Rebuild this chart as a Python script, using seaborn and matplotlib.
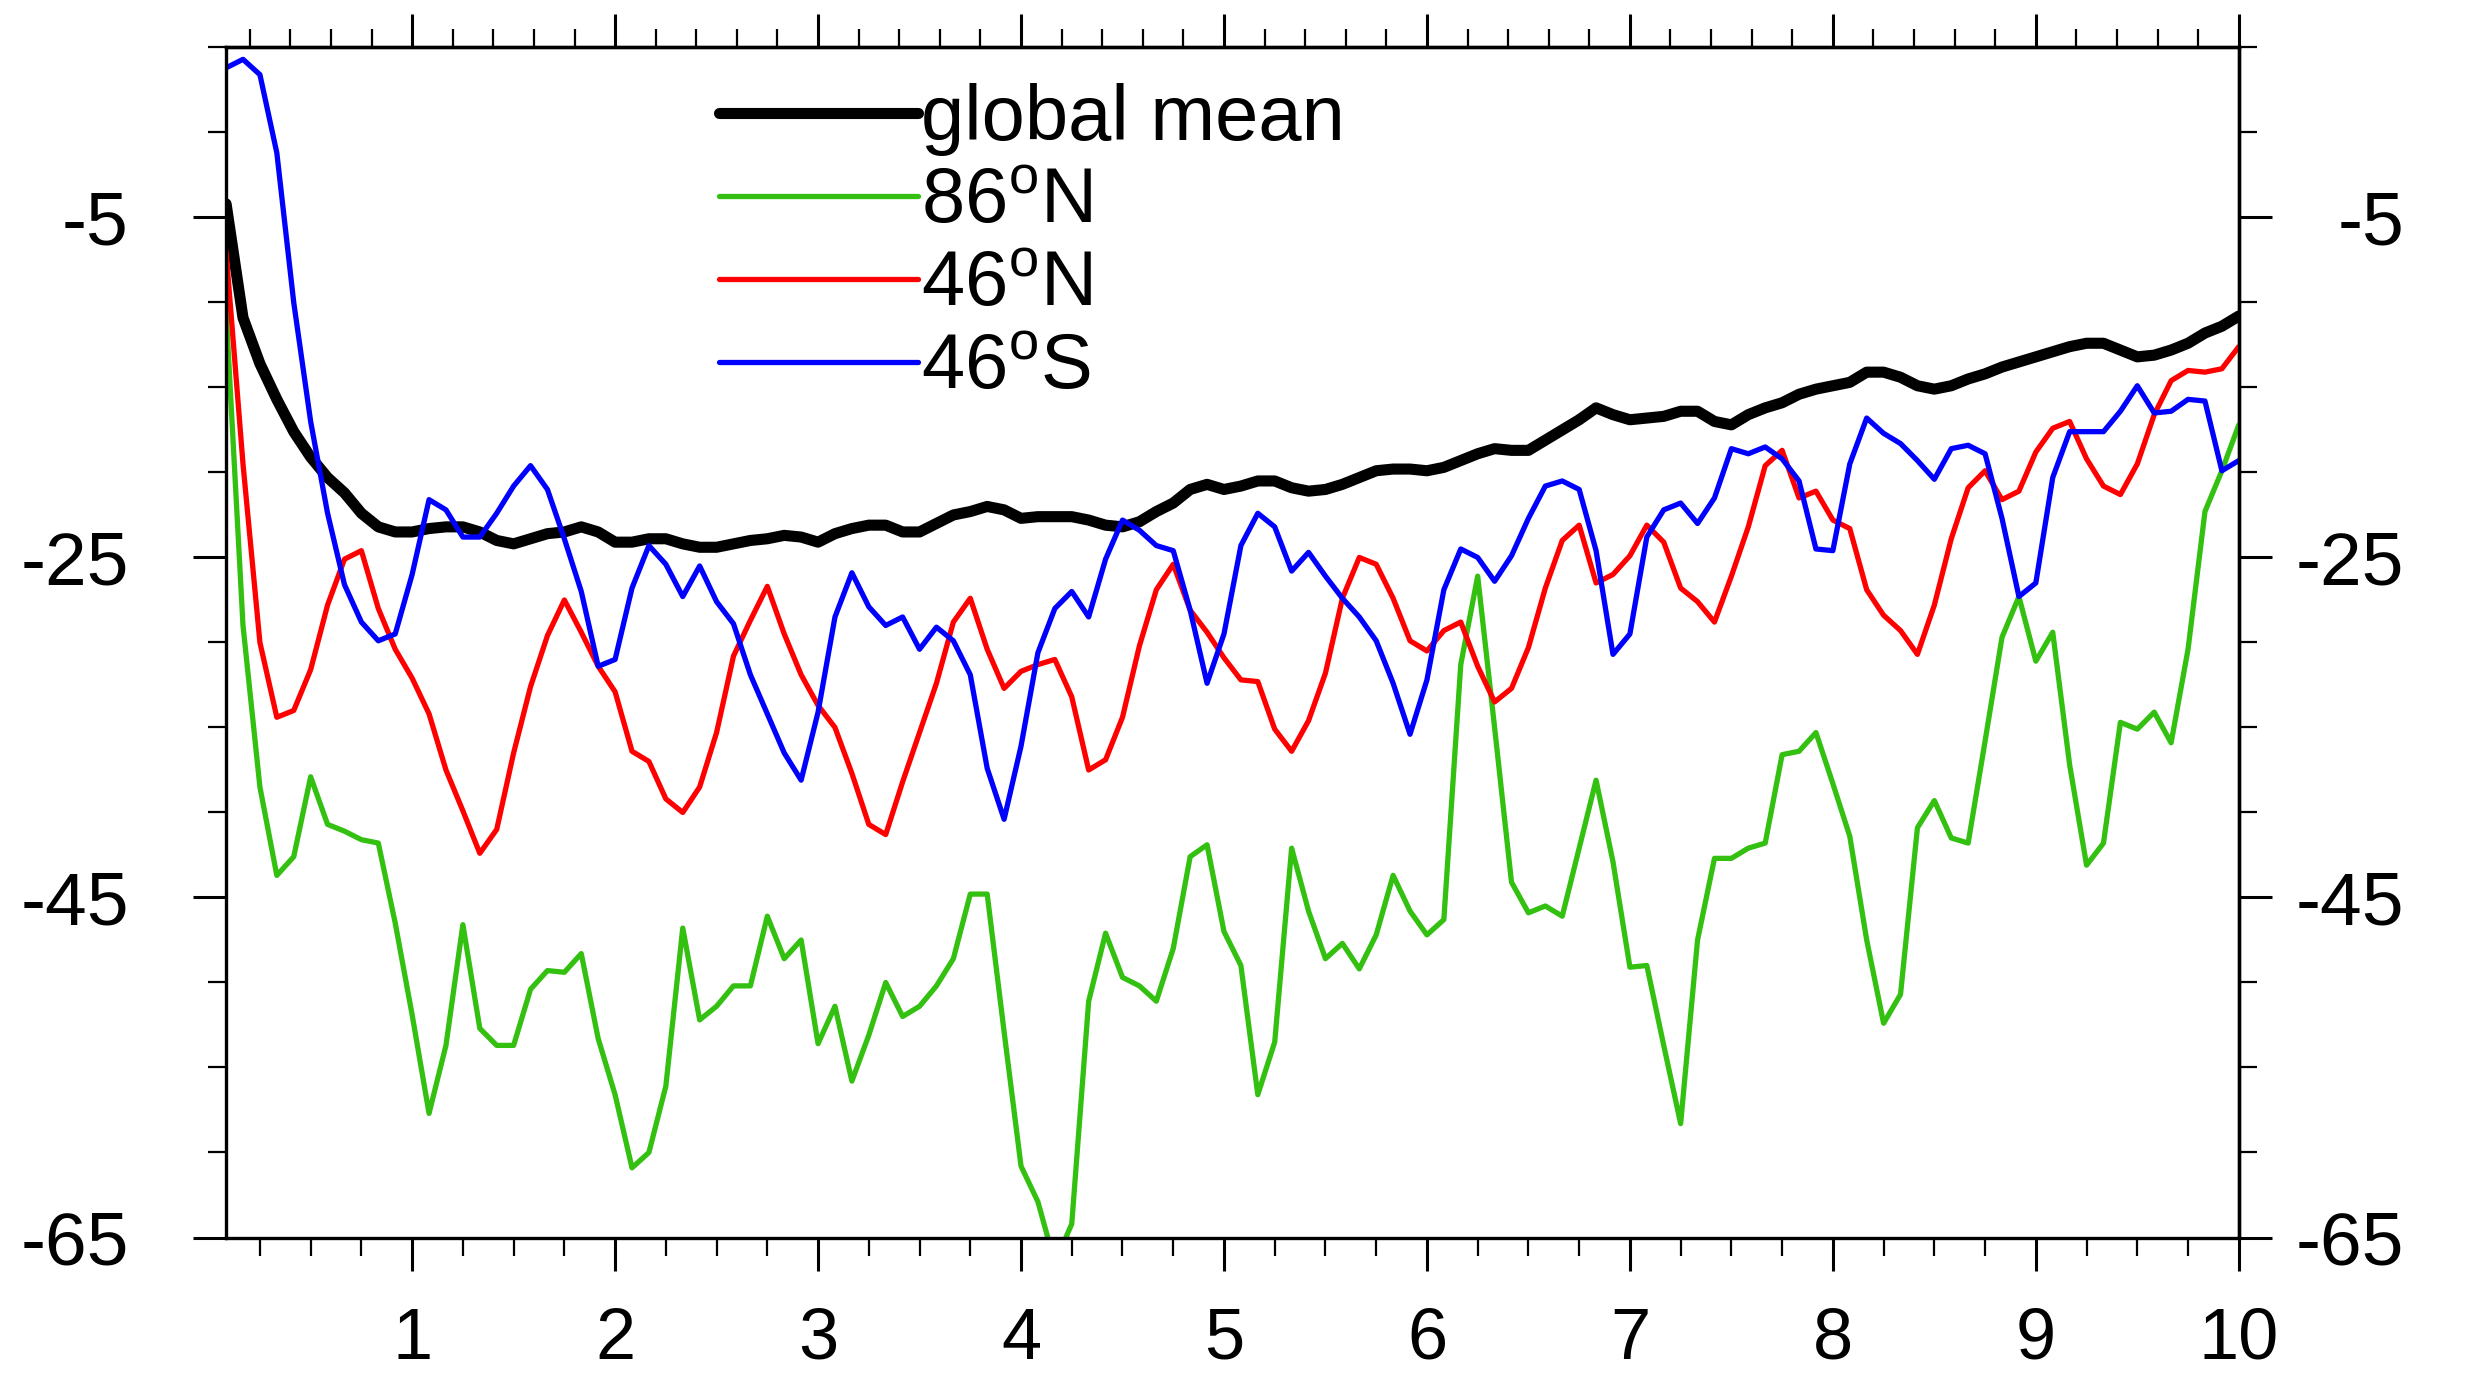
import numpy as np
import pandas as pd
import matplotlib
matplotlib.use("Agg")
import matplotlib.pyplot as plt
import seaborn as sns
from matplotlib.ticker import MultipleLocator

# ---------------- data (monthly values, 10 years) ----------------
months = np.arange(1, 121)
years = months / 12.0

global_mean = [
    -4.2, -10.9, -13.6, -15.7, -17.6, -19.1, -20.3, -21.2, -22.4, -23.2, -23.5, -23.5,
    -23.3, -23.2, -23.2, -23.5, -24.0, -24.2, -23.9, -23.6, -23.5, -23.2, -23.5, -24.1,
    -24.1, -23.9, -23.9, -24.2, -24.4, -24.4, -24.2, -24.0, -23.9, -23.7, -23.8, -24.1,
    -23.6, -23.3, -23.1, -23.1, -23.5, -23.5, -23.0, -22.5, -22.3, -22.0, -22.2, -22.7,
    -22.6, -22.6, -22.6, -22.8, -23.1, -23.2, -22.9, -22.3, -21.8, -21.0, -20.7, -21.0,
    -20.8, -20.5, -20.5, -20.9, -21.1, -21.0, -20.7, -20.3, -19.9, -19.8, -19.8, -19.9,
    -19.7, -19.3, -18.9, -18.6, -18.7, -18.7, -18.1, -17.5, -16.9, -16.2, -16.6, -16.9,
    -16.8, -16.7, -16.4, -16.4, -17.0, -17.2, -16.6, -16.2, -15.9, -15.4, -15.1, -14.9,
    -14.7, -14.1, -14.1, -14.4, -14.9, -15.1, -14.9, -14.5, -14.2, -13.8, -13.5, -13.2,
    -12.9, -12.6, -12.4, -12.4, -12.8, -13.2, -13.1, -12.8, -12.4, -11.8, -11.4, -10.8,
]

lat86n = [
    -10.5, -29.0, -38.5, -43.7, -42.6, -37.9, -40.7, -41.1, -41.6, -41.8, -46.5, -51.9,
    -57.7, -53.7, -46.6, -52.7, -53.7, -53.7, -50.4, -49.3, -49.4, -48.3, -53.3, -56.6,
    -60.9, -60.0, -56.1, -46.8, -52.2, -51.4, -50.2, -50.2, -46.1, -48.6, -47.5, -53.6,
    -51.4, -55.8, -53.1, -50.0, -52.0, -51.4, -50.2, -48.6, -44.8, -44.8, -52.9, -60.8,
    -62.9, -66.5, -64.2, -51.1, -47.1, -49.7, -50.2, -51.1, -48.0, -42.6, -41.9, -47.0,
    -49.0, -56.6, -53.5, -42.1, -45.8, -48.6, -47.7, -49.2, -47.2, -43.7, -45.8, -47.2,
    -46.3, -31.3, -26.1, -35.0, -44.1, -45.9, -45.5, -46.1, -42.1, -38.1, -42.9, -49.1,
    -49.0, -53.7, -58.3, -47.5, -42.7, -42.7, -42.1, -41.8, -36.6, -36.4, -35.3, -38.3,
    -41.4, -47.5, -52.4, -50.7, -40.9, -39.3, -41.5, -41.8, -35.8, -29.7, -27.3, -31.1,
    -29.4, -37.2, -43.1, -41.8, -34.7, -35.1, -34.1, -35.9, -30.4, -22.3, -19.9, -17.2,
]

lat46n = [
    -7.0, -19.5, -30.0, -34.4, -34.0, -31.6, -27.8, -25.1, -24.6, -28.0, -30.4, -32.1,
    -34.2, -37.5, -39.9, -42.4, -41.0, -36.5, -32.6, -29.6, -27.5, -29.4, -31.4, -32.9,
    -36.4, -37.0, -39.2, -40.0, -38.5, -35.3, -30.8, -28.7, -26.7, -29.5, -31.9, -33.7,
    -35.0, -37.7, -40.7, -41.3, -38.2, -35.3, -32.4, -28.8, -27.4, -30.4, -32.7, -31.7,
    -31.3, -31.0, -33.2, -37.5, -36.9, -34.4, -30.2, -26.9, -25.4, -28.1, -29.4, -30.9,
    -32.2, -32.3, -35.1, -36.4, -34.6, -31.8, -27.4, -25.0, -25.4, -27.4, -29.9, -30.5,
    -29.3, -28.8, -31.4, -33.5, -32.7, -30.3, -26.8, -24.0, -23.1, -26.5, -26.0, -24.9,
    -23.1, -24.1, -26.8, -27.6, -28.8, -26.1, -23.2, -19.6, -18.7, -21.5, -21.1, -22.8,
    -23.3, -26.9, -28.4, -29.3, -30.7, -27.8, -23.9, -20.9, -19.9, -21.6, -21.1, -18.8,
    -17.4, -17.0, -19.2, -20.8, -21.3, -19.5, -16.6, -14.6, -14.0, -14.1, -13.9, -12.6,
]

lat46s = [
    3.8, 4.3, 3.4, -1.2, -10.0, -17.0, -22.4, -26.6, -28.8, -29.9, -29.5, -26.0,
    -21.6, -22.2, -23.8, -23.8, -22.4, -20.8, -19.6, -21.0, -23.9, -27.0, -31.4, -31.0,
    -26.8, -24.3, -25.4, -27.3, -25.5, -27.6, -28.9, -31.9, -34.2, -36.5, -38.1, -34.1,
    -28.5, -25.9, -27.9, -29.0, -28.5, -30.4, -29.1, -29.9, -31.9, -37.4, -40.4, -36.1,
    -30.6, -28.0, -27.0, -28.5, -25.1, -22.8, -23.4, -24.3, -24.6, -28.1, -32.4, -29.5,
    -24.3, -22.4, -23.2, -25.8, -24.7, -26.1, -27.4, -28.5, -29.9, -32.4, -35.4, -32.2,
    -26.9, -24.5, -25.0, -26.4, -24.9, -22.7, -20.8, -20.5, -21.0, -24.6, -30.7, -29.5,
    -23.8, -22.2, -21.8, -23.0, -21.5, -18.6, -18.9, -18.5, -19.2, -20.5, -24.5, -24.6,
    -19.5, -16.8, -17.7, -18.3, -19.3, -20.4, -18.6, -18.4, -18.9, -22.7, -27.3, -26.5,
    -20.3, -17.6, -17.6, -17.6, -16.4, -14.9, -16.5, -16.4, -15.7, -15.8, -19.9, -19.3,
]

series_labels = ["global mean", r"86$^{\mathrm{o}}$N", r"46$^{\mathrm{o}}$N", r"46$^{\mathrm{o}}$S"]
series_values = [global_mean, lat86n, lat46n, lat46s]
series_colors = ["#000000", "#33c011", "#ff0000", "#0000ff"]
series_widths = [8.0, 3.8, 3.8, 3.8]

y_major = [-5, -25, -45, -65]
y_major_labels = ["-5", "-25", "-45", "-65"]
x_major = list(range(1, 11))
x_major_labels = [str(v) for v in x_major]

# ---------------- style ----------------
sns.set_theme(style="white")
plt.rcParams["font.family"] = ["Liberation Sans", "DejaVu Sans"]
plt.rcParams["mathtext.fontset"] = "custom"
plt.rcParams["mathtext.rm"] = "Liberation Sans"
plt.rcParams["mathtext.it"] = "Liberation Sans:italic"
for key in ["text.color", "axes.labelcolor", "xtick.color", "ytick.color",
            "xtick.labelcolor", "ytick.labelcolor", "axes.edgecolor"]:
    plt.rcParams[key] = "black"

fig = plt.figure(figsize=(24.79, 13.75), dpi=100)
ax = fig.add_axes([0.0912, 0.10, 0.8119, 0.8655])

for lab, vals, col, lw in zip(series_labels, series_values, series_colors, series_widths):
    df = pd.DataFrame({"year": years, "value": vals})
    sns.lineplot(data=df, x="year", y="value", ax=ax, color=col, linewidth=lw,
                 label=lab, solid_joinstyle="round", solid_capstyle="round")

ax.set_xlim(1 / 12, 10)
ax.set_ylim(-65, 5)
ax.set_xlabel("")
ax.set_ylabel("")

for sp in ax.spines.values():
    sp.set_linewidth(2.4)
    sp.set_color("black")

# bottom / left ticks
ax.set_xticks(x_major)
ax.set_xticklabels(x_major_labels)
ax.xaxis.set_minor_locator(MultipleLocator(0.25))
ax.set_yticks(y_major)
ax.set_yticklabels(y_major_labels)
ax.yaxis.set_minor_locator(MultipleLocator(5))
ax.tick_params(axis="both", which="major", direction="out", length=24, width=2.2,
               colors="black")
ax.tick_params(axis="both", which="minor", direction="out", length=13, width=1.6,
               colors="black")
ax.tick_params(axis="x", which="major", pad=26, labelsize=52)
ax.tick_params(axis="y", which="major", pad=46, labelsize=54)
ax.tick_params(left=True, bottom=True, which="both")

# top axis (ticks only, 0.2 minor spacing)
top = ax.secondary_xaxis("top")
top.set_xticks(x_major)
top.set_xticklabels([])
top.xaxis.set_minor_locator(MultipleLocator(0.2))
top.tick_params(which="major", direction="out", length=24, width=2.2, colors="black")
top.tick_params(which="minor", direction="out", length=13, width=1.6, colors="black")
top.spines["top"].set_linewidth(2.4)

# right axis (labels right-aligned)
right = ax.secondary_yaxis("right")
right.set_yticks(y_major)
right.set_yticklabels(y_major_labels)
right.yaxis.set_minor_locator(MultipleLocator(5))
right.tick_params(which="major", direction="out", length=24, width=2.2,
                  labelsize=54, pad=95, colors="black")
right.tick_params(which="minor", direction="out", length=13, width=1.6, colors="black")
right.spines["right"].set_linewidth(2.4)
for t in right.get_yticklabels():
    t.set_horizontalalignment("right")

# legend
handles, labels = ax.get_legend_handles_labels()
leg = ax.legend(handles, labels, loc="upper left", bbox_to_anchor=(0.245, 0.970),
                frameon=False, fontsize=56, handlelength=2.55, handletextpad=0.05,
                labelspacing=0.13, borderpad=0, borderaxespad=0)
for t in leg.get_texts():
    t.set_color("black")

fig.savefig("out.png", dpi=100, facecolor="white")
